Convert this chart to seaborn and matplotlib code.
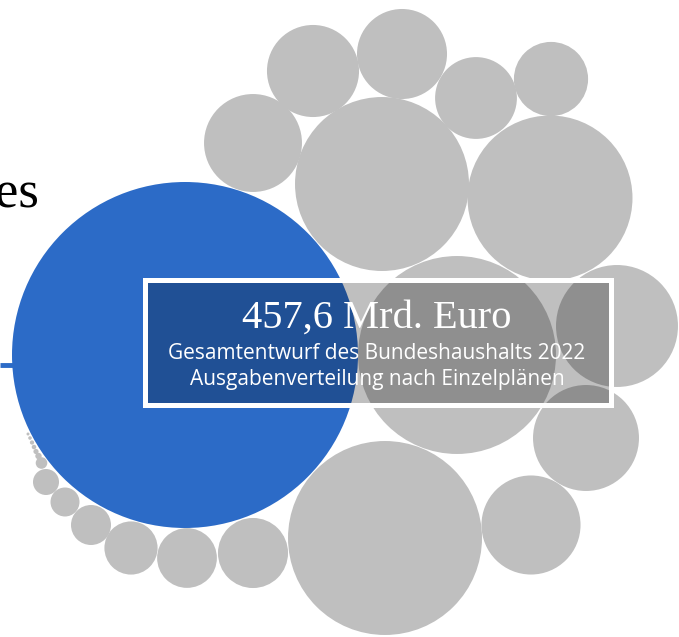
import matplotlib
matplotlib.use("Agg")
import matplotlib.pyplot as plt
from matplotlib.patches import Rectangle
import numpy as np
import pandas as pd
import seaborn as sns

# Budget items (Einzelpläne), values in Mrd. Euro
plans = [
    "EP A", "EP B", "EP C", "EP D", "EP E", "EP F", "EP G", "EP H", "EP I",
    "EP J", "EP K", "EP L", "EP M", "EP N", "EP O", "EP P", "EP Q", "EP R",
    "EP S", "EP T", "EP U", "EP V", "EP W", "EP X", "EP Y", "EP Z",
]
values = [
    161.0, 52.7, 50.6, 40.7, 36.6, 20.0, 15.1, 13.2, 12.9,
    11.4, 10.9, 9.0, 7.4, 6.6, 4.8, 3.8, 2.15, 1.13, 0.91,
    0.18, 0.055, 0.036, 0.028, 0.024, 0.017, 0.012,
]
highlight = ["Arbeit und Soziales"] + ["andere"] * 25

# Packed-bubble layout positions (canvas units)
layout_x = [
    185, 457, 385, 382, 550, 617, 586, 531, 253,
    313, 402, 476, 551, 253, 187, 131, 91, 65, 46,
    41.5, 38.5, 36, 34, 32, 30, 28,
]
layout_y = [
    355, 355, 538, 184, 198, 326, 438, 525, 143,
    71, 54, 98, 79, 553, 558, 548, 525, 502, 482,
    463, 456, 451.5, 447, 442.5, 438, 434,
]

headline = "457,6 Mrd. Euro"
subline_1 = "Gesamtentwurf des Bundeshaushalts 2022"
subline_2 = "Ausgabenverteilung nach Einzelplänen"
title_tail = "es"

BLUE = "#2C6BC7"
GREY = "#BFBFBF"

df = pd.DataFrame({
    "plan": plans, "value": values, "group": highlight,
    "x": layout_x, "y": layout_y,
})

sns.set_theme(style="white")

W, H, DPI = 679, 637, 100
fig = plt.figure(figsize=(W / DPI, H / DPI), dpi=DPI)
ax = fig.add_axes([0, 0, 1, 1])
ax.set_xlim(0, W)
ax.set_ylim(H, 0)
ax.set_aspect("equal")
ax.axis("off")

# bubble area proportional to value: radius px = c * sqrt(value)
px_per_sqrt = 173 / np.sqrt(161.0)
vmax = max(values)
dia_pt_max = 2 * px_per_sqrt * np.sqrt(vmax) * 72 / DPI
s_max = dia_pt_max ** 2

# connector line from the title into the highlighted bubble
ax.plot([0, layout_x[0]], [364.8, 364.8], color=BLUE, lw=3.5, zorder=1,
        solid_capstyle="butt")

sns.scatterplot(
    data=df, x="x", y="y", hue="group",
    palette={"Arbeit und Soziales": BLUE, "andere": GREY},
    size="value", sizes=(0, s_max), size_norm=(0, vmax),
    linewidth=0, legend=False, alpha=1, ax=ax, zorder=2,
)
ax.set_xlim(0, W)
ax.set_ylim(H, 0)
ax.axis("off")

# translucent caption panel
ax.add_patch(Rectangle((144.5, 279.5), 466, 125.5, facecolor=(0, 0, 0, 0.25),
                       edgecolor="white", lw=3.6, zorder=3))

ax.text(377, 328, headline, ha="center", va="baseline", color="white",
        fontsize=29.2, family=["Liberation Serif", "DejaVu Serif"], zorder=4)
ax.text(377, 359, subline_1, ha="center", va="baseline", color="white",
        fontsize=15, family=["Open Sans", "DejaVu Sans"], zorder=4)
ax.text(377.5, 385.5, subline_2, ha="center", va="baseline", color="white",
        fontsize=15, family=["Open Sans", "DejaVu Sans"], zorder=4)

ax.text(39, 208, title_tail, ha="right", va="baseline", color="black",
        fontsize=38, family=["Liberation Serif", "DejaVu Serif"], zorder=4)

fig.savefig("out.png", dpi=DPI)
